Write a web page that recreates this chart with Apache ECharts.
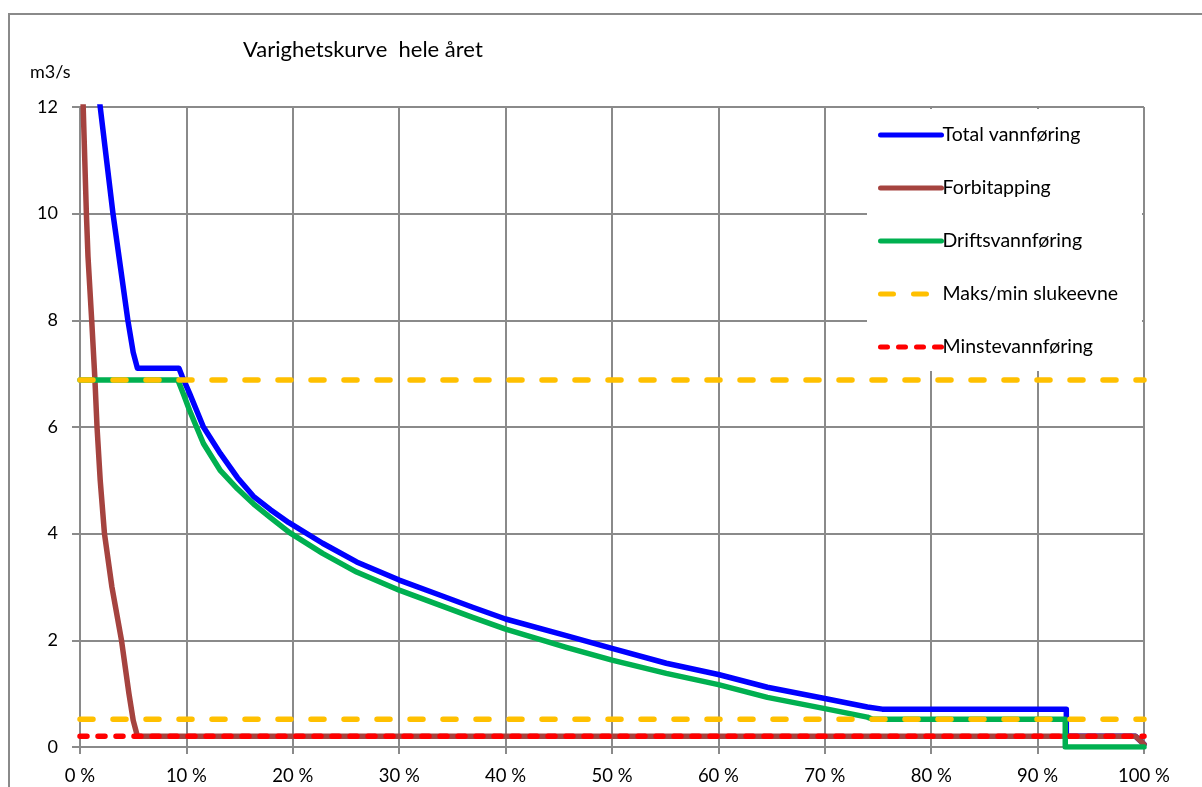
<!DOCTYPE html>
<html>
<head>
<meta charset="utf-8">
<script src="https://cdn.jsdelivr.net/npm/echarts@6/dist/echarts.min.js"></script>
<style>
  html, body { margin: 0; padding: 0; background: #fff; }
  #chart { width: 1202px; height: 787px; }
</style>
</head>
<body>
<div id="chart"></div>
<script>
  // Varighetskurve: x = prosent av tiden, y = vannføring (m3/s)
  const seriesNames = ['Total vannføring', 'Forbitapping', 'Driftsvannføring', 'Maks/min slukeevne', 'Minstevannføring'];

  const totalFlow = [
    [0.7, 14], [1.9, 12], [2.2, 11.5], [2.5, 11.0], [3.1, 10], [3.8, 9], [4.5, 8], [5.0, 7.4], [5.4, 7.1],
    [9.3, 7.1], [9.6, 6.95], [10.3, 6.63], [11.6, 6.0], [13.2, 5.5], [14.8, 5.05], [16.3, 4.7], [17.9, 4.45],
    [19.6, 4.21], [22.8, 3.82], [26, 3.47], [30, 3.13], [33.8, 2.85], [36.9, 2.62], [40, 2.4], [45.7, 2.09],
    [50, 1.85], [55.1, 1.57], [60, 1.36], [64.6, 1.12], [70, 0.91], [74, 0.75], [75.4, 0.71],
    [92.7, 0.71], [92.7, 0.2], [99.2, 0.2], [100, 0.05]
  ];

  const bypassFlow = [
    [0.15, 13.5], [0.3, 12], [0.45, 11], [0.6, 10], [0.75, 9.2], [1.1, 8], [1.4, 6.9], [1.6, 6.0],
    [1.9, 5.0], [2.3, 4.0], [3.0, 3.0], [3.9, 2.0], [4.6, 1.0], [5.0, 0.5], [5.4, 0.2],
    [99.2, 0.2], [100, 0.05]
  ];

  const plantFlow = [
    [0, 6.88], [9.2, 6.88], [9.7, 6.63], [10.3, 6.31], [11.6, 5.69], [13.2, 5.18], [14.8, 4.84], [16.3, 4.56],
    [17.9, 4.3], [19.7, 4.02], [22.8, 3.63], [26, 3.28], [30, 2.94], [33.8, 2.66], [36.9, 2.43], [40, 2.21],
    [45.7, 1.87], [50, 1.63], [55.1, 1.38], [60, 1.17], [64.6, 0.93], [70, 0.72], [74, 0.56], [74.5, 0.52],
    [92.6, 0.52], [92.6, 0], [100, 0]
  ];

  const maxCapacity = [[0, 6.88], [100, 6.88]];
  const minCapacity = [[0, 0.52], [100, 0.52]];
  const minimumFlow = [[0, 0.2], [100, 0.2]];

  const FONT = 'Lato, "Open Sans", sans-serif';
  const GRIDGRAY = '#8a8a8a';

  const chart = echarts.init(document.getElementById('chart'), null, { renderer: 'canvas' });

  function lineSeries(name, data, color, type) {
    return {
      name: name,
      type: 'line',
      data: data,
      symbol: 'none',
      z: 2,
      animation: false,
      lineStyle: { color: color, width: 5.5, type: type || 'solid', cap: 'round', join: 'round' },
      itemStyle: { color: color }
    };
  }

  const option = {
    animation: false,
    backgroundColor: '#fff',
    textStyle: { fontFamily: FONT },
    title: [
      { text: 'Varighetskurve  hele året', left: 238, top: 34, textStyle: { fontFamily: FONT, fontSize: 22, fontWeight: 'normal', color: '#000' } },
      { text: 'm3/s', left: 25, top: 58, textStyle: { fontFamily: FONT, fontSize: 18, fontWeight: 'normal', color: '#000' } }
    ],
    grid: { left: 80, top: 107, width: 1064, height: 640, containLabel: false },
    xAxis: {
      type: 'value',
      min: 0, max: 100, interval: 10,
      axisLine: { show: true, lineStyle: { color: GRIDGRAY, width: 2 } },
      axisTick: { show: true, length: 7, lineStyle: { color: GRIDGRAY, width: 2 } },
      axisLabel: { formatter: '{value} %', fontSize: 18.5, color: '#000', margin: 20, fontFamily: FONT, showMaxLabel: true },
      splitLine: { show: true, lineStyle: { color: GRIDGRAY, width: 2 } }
    },
    yAxis: {
      type: 'value',
      min: 0, max: 12, interval: 2,
      axisLine: { show: true, lineStyle: { color: GRIDGRAY, width: 2 } },
      axisTick: { show: true, length: 8, lineStyle: { color: GRIDGRAY, width: 2 } },
      axisLabel: { fontSize: 18, color: '#000', margin: 22, fontFamily: FONT },
      splitLine: { show: true, lineStyle: { color: GRIDGRAY, width: 2 } }
    },
    legend: {
      orient: 'vertical',
      left: 878, top: 124,
      padding: 0,
      itemWidth: 61, itemHeight: 14, itemGap: 31,
      z: 10,
      data: seriesNames,
      itemStyle: { opacity: 0 },
      lineStyle: { width: 5 },
      textStyle: { fontFamily: FONT, fontSize: 19.5, color: '#000', lineHeight: 22, padding: [0, 0, 0, -4] }
    },
    graphic: [
      // ytre ramme
      { type: 'rect', z: -1, silent: true, shape: { x: 9, y: 14, width: 1260, height: 900 }, style: { fill: null, stroke: GRIDGRAY, lineWidth: 2 } },
      // hvit bakgrunn bak forklaringen
      { type: 'rect', z: 3, silent: true, shape: { x: 867, y: 109, width: 275, height: 262 }, style: { fill: '#fff' } }
    ],
    series: [
      lineSeries(seriesNames[0], totalFlow, '#0000ff', 'solid'),
      lineSeries(seriesNames[1], bypassFlow, '#a5433f', 'solid'),
      lineSeries(seriesNames[2], plantFlow, '#00b050', 'solid'),
      lineSeries(seriesNames[3], maxCapacity, '#ffc000', [13, 20]),
      lineSeries(seriesNames[3], minCapacity, '#ffc000', [13, 20]),
      lineSeries(seriesNames[4], minimumFlow, '#ff0000', [7, 11])
    ]
  };

  chart.setOption(option);
</script>
</body>
</html>
